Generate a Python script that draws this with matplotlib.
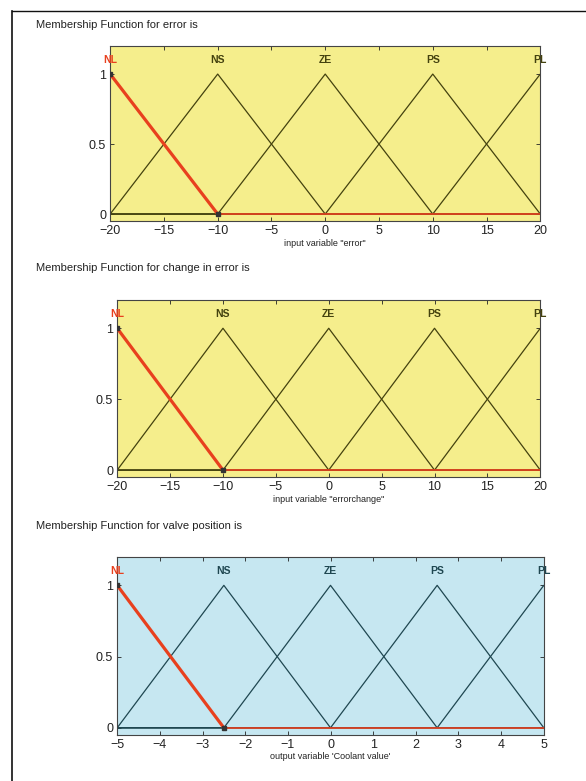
import matplotlib
matplotlib.use("Agg")
import matplotlib.pyplot as plt
from matplotlib.lines import Line2D

plt.rcParams['font.family'] = ['Liberation Sans', 'DejaVu Sans']

mf_names = ['NL', 'NS', 'ZE', 'PS', 'PL']

# error: range and triangle params [a, b, c] per MF
error_range = [-20, 20]
error_params = [[-30, -20, -10], [-20, -10, 0], [-10, 0, 10], [0, 10, 20], [10, 20, 30]]
error_ticks = [-20, -15, -10, -5, 0, 5, 10, 15, 20]

# change in error
derr_range = [-20, 20]
derr_params = [[-30, -20, -10], [-20, -10, 0], [-10, 0, 10], [0, 10, 20], [10, 20, 30]]
derr_ticks = [-20, -15, -10, -5, 0, 5, 10, 15, 20]

# valve position (output)
valve_range = [-5, 5]
valve_params = [[-7.5, -5, -2.5], [-5, -2.5, 0], [-2.5, 0, 2.5], [0, 2.5, 5], [2.5, 5, 7.5]]
valve_ticks = [-5, -4, -3, -2, -1, 0, 1, 2, 3, 4, 5]

yticks = [0, 0.5, 1]

panels = [
    dict(title='Membership Function for error is', rng=error_range, params=error_params,
         ticks=error_ticks, xlabel='input variable "error"',
         rect=[0.188, 0.717, 0.734, 0.224], bg='#F5EE8C', ink='#44420F', ty=0.968),
    dict(title='Membership Function for change in error is', rng=derr_range, params=derr_params,
         ticks=derr_ticks, xlabel='input variable "errorchange"',
         rect=[0.200, 0.389, 0.722, 0.227], bg='#F5EE8C', ink='#44420F', ty=0.657),
    dict(title='Membership Function for valve position is', rng=valve_range, params=valve_params,
         ticks=valve_ticks, xlabel="output variable 'Coolant value'",
         rect=[0.200, 0.059, 0.728, 0.228], bg='#C6E7F1', ink='#1F4751', ty=0.327),
]

red = '#E8401E'

fig = plt.figure(figsize=(5.86, 7.81), dpi=100)

for p in panels:
    ax = fig.add_axes(p['rect'])
    ax.set_facecolor(p['bg'])
    lo, hi = p['rng']
    # the other MFs first, NL on top in red
    for name, (a, b, c) in list(zip(mf_names, p['params']))[1:]:
        ax.plot([min(lo, a), a, b, c, max(hi, c)], [0, 0, 1, 0, 0],
                color=p['ink'], lw=0.9, zorder=2)
        ax.text(b, 1.1, name, ha='center', va='center', fontsize=7.5,
                color=p['ink'], fontweight='bold')
    a, b, c = p['params'][0]
    ax.plot([a, b, c], [0, 1, 0], color=red, lw=2.3, zorder=3, solid_capstyle='round')
    ax.plot([c, max(hi, c)], [0, 0], color=red, lw=1.4, zorder=3, alpha=0.85)
    ax.plot([b, c], [1, 0], ls='none', marker='s', ms=3.5, color='#333333', zorder=4)
    ax.text(b, 1.1, mf_names[0], ha='center', va='center', fontsize=7.5,
            color=red, fontweight='bold')

    ax.set_xlim(lo, hi)
    ax.set_ylim(-0.05, 1.2)
    ax.set_xticks(p['ticks'])
    ax.set_yticks(yticks)
    ax.set_yticklabels(['0', '0.5', '1'])
    ax.tick_params(direction='in', length=3, width=0.6, top=True, right=True,
                   labelsize=9, colors='#222222', pad=3)
    for s in ax.spines.values():
        s.set_color('#444444')
        s.set_linewidth(0.8)
    ax.set_xlabel(p['xlabel'], fontsize=6.5, color='#222222', labelpad=1)
    fig.text(0.062, p['ty'], p['title'], fontsize=8, color='#222222', va='center')

# scanned page frame
fig.add_artist(Line2D([0.02, 0.02], [0.0, 0.986], color='#111111', lw=1.2,
                      transform=fig.transFigure))
fig.add_artist(Line2D([0.02, 1.0], [0.986, 0.986], color='#111111', lw=1.0,
                      transform=fig.transFigure))

fig.savefig('out.png', dpi=100)
